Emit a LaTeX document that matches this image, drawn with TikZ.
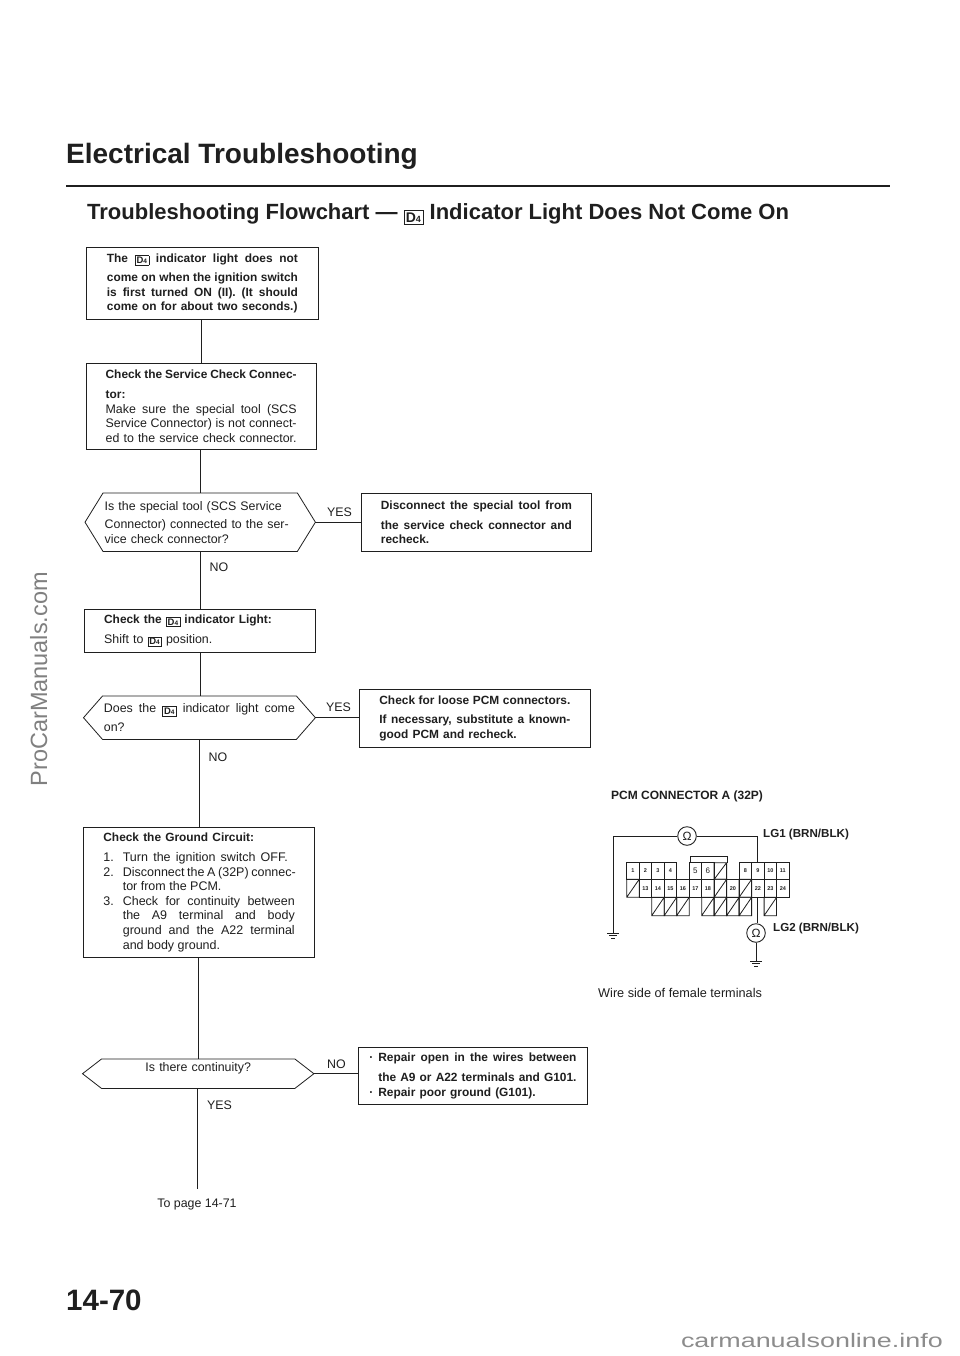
\documentclass[tikz,border=0pt]{standalone}
\usepackage{fontspec}
\setmainfont{Liberation Sans}
\usetikzlibrary{calc}
\newcommand\bodyfont{\fontsize{12.4}{14.6}\selectfont}
\newcommand\boldfont{\fontsize{11.9}{14.6}\selectfont\bfseries}
\newcommand\dfour[4]{\raisebox{#3}{\setlength\fboxsep{#4}\setlength\fboxrule{0.6pt}\fbox{\fontsize{#1}{#1}\selectfont\bfseries D\fontsize{#2}{#2}\selectfont 4\kern0.5pt}}}
\newcommand\dsmall{\dfour{9.5}{6.5}{-1.6pt}{1.1pt}}
\newcommand\jl[2][191pt]{\leavevmode\hbox to #1{\spaceskip=0.278em plus 20em minus 0.15em #2}}
\newcommand\nl[1]{\leavevmode\hbox{#1}}
\newcommand\bl[2][191pt]{\jl[#1]{\boldfont #2}}
\newcommand\ind[3][]{\leavevmode\hbox to 19.4pt{#2\hss}#3}
\newcommand\hexa[2]{\draw[wire] (#1.west) -- ($(#1.north west)+(#2,0)$) -- ($(#1.north east)+(-#2,0)$) -- (#1.east) -- ($(#1.south east)+(-#2,0)$) -- ($(#1.south west)+(#2,0)$) -- cycle;}
\newcommand\ground[1]{\draw[wire] ($(#1)+(-6,0)$) -- ($(#1)+(6,0)$) ($(#1)+(-4,2.5)$) -- ($(#1)+(4,2.5)$) ($(#1)+(-2,5)$) -- ($(#1)+(2,5)$);}
\definecolor{ink}{gray}{0.12}
\tikzset{
  wire/.style={draw=ink,line width=0.8pt},
  flowbox/.style={draw=ink,line width=0.8pt,fill=white,anchor=north west,text=ink,font=\bodyfont,align=left,text width=191pt,inner xsep=20pt,inner ysep=0pt,execute at begin node={\vspace*{5pt}}},
  hexbox/.style={anchor=north west,text=ink,font=\bodyfont,align=left,text width=191pt,inner xsep=19.5pt,inner ysep=0pt,execute at begin node={\vspace*{4pt}}},
  lab/.style={text=ink,font=\bodyfont,inner sep=0pt},
  pin/.style={text=ink,font=\bfseries\fontsize{5.5}{6}\selectfont,inner sep=0pt},
  bigpin/.style={text=ink,font=\fontsize{8}{8}\selectfont,inner sep=0pt},
  ohm/.style={draw=ink,line width=0.9pt,circle,minimum size=18.6pt,inner sep=0pt,fill=white,text=ink,font=\fontsize{12}{12}\selectfont},
  diag/.style={anchor=west,text=ink,inner sep=0pt,font=\bfseries\fontsize{11.6}{12}\selectfont},
}
\begin{document}
\begin{tikzpicture}[x=1pt,y=-1pt]
\useasboundingbox (0,0) rectangle (960,1356);
\fill[white] (0,0) rectangle (960,1356);
% headers
\node[anchor=west,text=ink,inner sep=0pt,font=\bfseries\fontsize{28}{30}\selectfont] (title) at (66,156) {Electrical Troubleshooting};
\coordinate (ruleA) at (66,186.5); \coordinate (ruleB) at (890,186.5);
\draw[draw=ink,line width=2pt] (ruleA) -- (ruleB);
\node[anchor=west,text=ink,inner sep=0pt,font=\bfseries\fontsize{22}{24}\selectfont] (sub) at (87,214) {Troubleshooting Flowchart --- \dfour{14}{9}{-2.4pt}{1.5pt} Indicator Light Does Not Come On};
% flow boxes
\node[flowbox,minimum height=72pt,inner xsep=20.5pt] (b1) at (86,247) {
 \bl{The \dsmall{} indicator light does not}\\
 \bl{come on when the ignition switch}\\
 \bl{is first turned ON (II). (It should}\\
 \nl{\boldfont come on for about two seconds.)}};
\node[flowbox,minimum height=86pt,inner xsep=19.75pt] (b2) at (85.5,363) {\bl{Check the Service Check Connec-}\\
 \nl{\boldfont tor:}\\
 \jl{Make sure the special tool (SCS}\\
 \jl{Service Connector) is not connect-}\\
 \nl{ed to the service check connector.}};
\node[hexbox,minimum height=58pt,inner xsep=19.5pt] (h1) at (85,493) {\nl{Is the special tool (SCS Service}\\\nl{Connector) connected to the ser-}\\\nl{vice check connector?}};
\hexa{h1}{18}
\node[flowbox,minimum height=58pt,inner xsep=19.5pt] (b3) at (361,493) {
 \bl{Disconnect the special tool from}\\
 \bl{the service check connector and}\\
 \nl{\boldfont recheck.}};
\node[flowbox,minimum height=43pt,inner xsep=20.25pt] (b4) at (83.5,609) {\nl{\boldfont Check the \dsmall{} indicator Light:}\\\nl{Shift to \dsmall{} position.}};
\node[hexbox,minimum height=43pt,inner xsep=20.25pt] (h2) at (83.5,696) {\jl{Does the \dsmall{} indicator light come}\\\nl{on?}};
\hexa{h2}{19}
\node[flowbox,minimum height=58pt,inner xsep=20pt] (b5) at (359,689) {
 \bl{Check for loose PCM connectors.}\\
 \bl{If necessary, substitute a known-}\\
 \nl{\boldfont good PCM and recheck.}};
\node[flowbox,minimum height=130pt,inner xsep=20pt,font=\fontsize{12.5}{14.6}\selectfont] (b6) at (83,827) {\nl{\boldfont Check the Ground Circuit:}\\
 \ind{1.}{\jl[165pt]{Turn the ignition switch OFF.}}\\
 \ind{2.}{\jl[173pt]{Disconnect the A (32P) connec-}}\\
 \ind{}{\jl[172pt]{tor from the PCM.\hss}}\\
 \ind{3.}{\jl[172pt]{Check for continuity between}}\\
 \ind{}{\jl[172pt]{the A9 terminal and body}}\\
 \ind{}{\jl[172pt]{ground and the A22 terminal}}\\
 \ind{}{\jl[172pt]{and body ground.\hss}}};
\node[hexbox,minimum height=29pt,align=center,inner xsep=20pt,execute at begin node={\vspace*{6pt}}] (h3) at (82.5,1059) {Is there continuity?};
\hexa{h3}{19}
\node[flowbox,minimum height=57pt,text width=207pt,inner xsep=11pt] (b7) at (358,1047) {
 \nl{\boldfont\hbox to 9pt{·\hss}\jl[198pt]{Repair open in the wires between}}\\
 \nl{\boldfont\hbox to 9pt{\hss}the A9 or A22 terminals and G101.}\\
 \nl{\boldfont\hbox to 9pt{·\hss}Repair poor ground (G101).}};
\node[lab] (topage) at (197,1205) {To page 14-71};
\coordinate (end) at (197,1189);
% connectors
\draw[wire] (b1.south -| 201,0) -- (b2.north -| 201,0);
\draw[wire] (b2.south -| 200.5,0) -- (h1.north -| 200.5,0);
\draw[wire] (h1.south -| 200,0) -- (b4.north -| 200,0);
\draw[wire] (b4.south -| 200,0) -- (h2.north -| 200,0);
\draw[wire] (h2.south -| 199,0) -- (b6.north -| 199,0);
\draw[wire] (b6.south -| 198.5,0) -- (h3.north -| 198.5,0);
\draw[wire] (h3.south -| 197,0) -- (end);
\draw[wire] (h1.east) -- (h1.east -| b3.west);
\draw[wire] (h2.east) -- (h2.east -| b5.west);
\draw[wire] (h3.east) -- (h3.east -| b7.west);
\node[lab,anchor=west] (yes1) at (327,512) {YES};
\node[lab,anchor=west] (no1) at (209.5,567) {NO};
\node[lab,anchor=west] (yes2) at (326,707) {YES};
\node[lab,anchor=west] (no2) at (208.5,757) {NO};
\node[lab,anchor=west] (no3) at (327,1064) {NO};
\node[lab,anchor=west] (yes3) at (207,1105) {YES};
% connector diagram
\node[diag,font=\bfseries\fontsize{12}{12}\selectfont] (pcm) at (611,796) {PCM CONNECTOR A (32P)};
\foreach \c/\l in {0/1,1/2,2/3,3/4,9/8,10/9,11/10,12/11}{
  \draw[wire] ({626.7+12.49*\c},862.7) rectangle ({626.7+12.49*(\c+1)},879.3);
  \node[pin] (t\c) at ({626.7+12.49*(\c+.5)},871) {\l};
}
\foreach \c/\l in {5/5,6/6}{
  \draw[wire] ({626.7+12.49*\c},862.7) rectangle ({626.7+12.49*(\c+1)},879.3);
  \node[bigpin] (t\c) at ({626.7+12.49*(\c+.5)},871) {\l};
}
\foreach \c/\l in {1/13,2/14,3/15,4/16,5/17,6/18,8/20,10/22,11/23,12/24}{
  \draw[wire] ({626.7+12.49*\c},879.3) rectangle ({626.7+12.49*(\c+1)},897.3);
  \node[pin] (m\c) at ({626.7+12.49*(\c+.5)},888.3) {\l};
}
\foreach \c in {7}{\draw[wire] ({626.7+12.49*\c},862.7) rectangle ({626.7+12.49*(\c+1)},879.3) ({626.7+12.49*\c},879.3) -- ({626.7+12.49*(\c+1)},862.7);}
\foreach \c in {0,7,9}{\draw[wire] ({626.7+12.49*\c},879.3) rectangle ({626.7+12.49*(\c+1)},897.3) ({626.7+12.49*\c},897.3) -- ({626.7+12.49*(\c+1)},879.3);}
\foreach \c in {2,3,4,6,7,8,9,11}{\draw[wire] ({626.7+12.49*\c},897.3) rectangle ({626.7+12.49*(\c+1)},915.7) ({626.7+12.49*\c},915.7) -- ({626.7+12.49*(\c+1)},897.3);}
\draw[wire] (690,862.7) -- (690,856.5) -- (727.5,856.5) -- (727.5,862.7);
\node[ohm] (o1) at (687,836) {Ω};
\node[ohm] (o2) at (756,933) {Ω};
\coordinate (g1) at (613,933); \coordinate (g2) at (756,961);
\coordinate (pin9) at (757.5,862.7); \coordinate (pin22) at (757,897.3);
\draw[wire] (o1.west) -| (g1);
\draw[wire] (o1.east) -| (pin9);
\draw[wire] (pin22 |- o2.north) -- (pin22);
\draw[wire] (o2.south) -- (g2);
\ground{g1}
\ground{g2}
\node[diag] (lg1) at (763,834) {LG1 (BRN/BLK)};
\node[diag] (lg2) at (773,928) {LG2 (BRN/BLK)};
\node[anchor=west,text=ink,inner sep=0pt,font=\fontsize{12.7}{13}\selectfont] (wire) at (598,993) {Wire side of female terminals};
% page number and marks
\node[anchor=west,text=ink,inner sep=0pt,font=\bfseries\fontsize{29.5}{32}\selectfont] (pg) at (66,1300) {14-70};
\node[rotate=90,anchor=base east,text=black!50,inner sep=0pt,font=\fontsize{23.5}{24}\selectfont] (wm) at (47,572) {ProCarManuals.com};
\node[anchor=base east,text=black!45,inner sep=0pt,font=\fontsize{19.5}{20}\selectfont] (cm) at (943,1347) {\scalebox{1.38}[1]{carmanualsonline.info}};
\end{tikzpicture}
\end{document}
